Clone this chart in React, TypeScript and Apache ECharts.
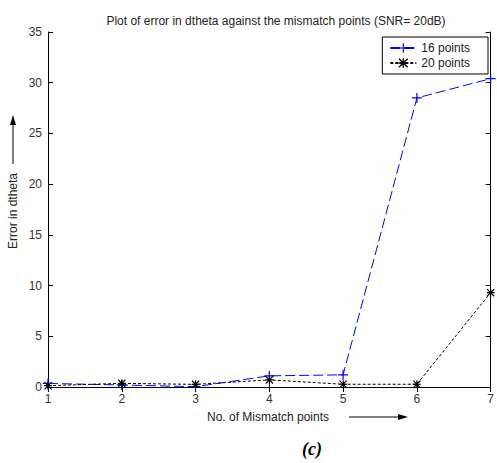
import React, { useEffect, useRef } from "react";
import * as echarts from "echarts";

const mismatchPoints = [1, 2, 3, 4, 5, 6, 7];
const err16 = [0.35, 0.2, 0.03, 1.1, 1.2, 28.5, 30.4];
const err20 = [0.13, 0.36, 0.26, 0.7, 0.27, 0.27, 9.3];
const seriesNames = ["16 points", "20 points"];
const titleText = "Plot of error in dtheta against the mismatch points (SNR= 20dB)";
const xLabel = "No. of Mismatch points";
const yLabel = "Error in dtheta";
const captionText = "(c)";

const plusPath = "path://M0,4.4H10V5.6H0ZM4.4,0H5.6V10H4.4Z";
const starPath =
  "path://M0,4.3H10V5.7H0ZM4.3,0H5.7V10H4.3ZM1,0L10,9L9,10L0,1ZM9,0L10,1L1,10L0,9Z";

export default function App() {
  const ref = useRef<HTMLDivElement>(null);
  useEffect(() => {
    if (!ref.current) return;
    const chart = echarts.init(ref.current, null, { renderer: "svg" });
    const font = "Arial, 'Liberation Sans', sans-serif";
    const axisCommon = {
      axisLine: { show: true, lineStyle: { color: "#000", width: 1 } },
      axisTick: { show: true, inside: true, length: 5, lineStyle: { color: "#000" } },
      splitLine: { show: false },
    };
    chart.setOption({
      animation: false,
      backgroundColor: "#fff",
      title: {
        text: titleText,
        left: 271,
        textAlign: "center",
        top: 10,
        textStyle: { fontSize: 12, fontWeight: "normal", color: "#222", fontFamily: font },
      },
      grid: { left: 48, right: 3, top: 32, bottom: 76, containLabel: false },
      legend: {
        data: seriesNames,
        orient: "vertical",
        right: 9,
        top: 37,
        padding: [5, 18, 5, 7],
        itemGap: 3,
        itemWidth: 26,
        itemHeight: 12,
        backgroundColor: "#fff",
        borderColor: "#000",
        borderWidth: 1,
        borderRadius: 0,
        textStyle: { fontSize: 12, color: "#222", fontFamily: font },
      },
      xAxis: [
        {
          type: "value",
          min: 1,
          max: 7,
          interval: 1,
          position: "bottom",
          ...axisCommon,
          axisLabel: { fontSize: 12, color: "#333", fontFamily: font, margin: 6 },
        },
        {
          type: "value",
          min: 1,
          max: 7,
          interval: 1,
          position: "top",
          ...axisCommon,
          axisLabel: { show: false },
        },
      ],
      yAxis: [
        {
          type: "value",
          min: 0,
          max: 35,
          interval: 5,
          position: "left",
          ...axisCommon,
          axisLabel: { fontSize: 12, color: "#333", fontFamily: font, margin: 6 },
        },
        {
          type: "value",
          min: 0,
          max: 35,
          interval: 5,
          position: "right",
          ...axisCommon,
          axisLabel: { show: false },
        },
      ],
      series: [
        {
          name: seriesNames[0],
          type: "line",
          xAxisIndex: 0,
          yAxisIndex: 0,
          data: mismatchPoints.map((x, i) => [x, err16[i]]),
          symbol: plusPath,
          symbolSize: 10,
          showAllSymbol: true,
          itemStyle: { color: "#0000ff" },
          lineStyle: { color: "#0000ff", width: 1, type: [10, 4] },
          z: 3,
        },
        {
          name: seriesNames[1],
          type: "line",
          xAxisIndex: 0,
          yAxisIndex: 0,
          data: mismatchPoints.map((x, i) => [x, err20[i]]),
          symbol: starPath,
          symbolSize: 8,
          showAllSymbol: true,
          itemStyle: { color: "#000" },
          lineStyle: { color: "#000", width: 1, type: [3, 2] },
          z: 4,
        },
      ],
      graphic: [
        {
          type: "text",
          x: 13,
          y: 211,
          rotation: Math.PI / 2,
          style: {
            text: yLabel,
            font: "12px Arial, 'Liberation Sans', sans-serif",
            fill: "#222",
            align: "center",
            verticalAlign: "middle",
          },
        },
        {
          type: "line",
          shape: { x1: 13, y1: 164, x2: 13, y2: 123 },
          style: { stroke: "#000", lineWidth: 1 },
        },
        {
          type: "polygon",
          shape: { points: [[13, 115], [10, 125], [16, 125]] },
          style: { fill: "#000" },
        },
        {
          type: "text",
          x: 268,
          y: 417,
          style: {
            text: xLabel,
            font: "12px Arial, 'Liberation Sans', sans-serif",
            fill: "#222",
            align: "center",
            verticalAlign: "middle",
          },
        },
        {
          type: "line",
          shape: { x1: 349, y1: 417, x2: 400, y2: 417 },
          style: { stroke: "#000", lineWidth: 1 },
        },
        {
          type: "polygon",
          shape: { points: [[408, 417], [398, 414], [398, 420]] },
          style: { fill: "#000" },
        },
        {
          type: "text",
          x: 312,
          y: 449,
          style: {
            text: captionText,
            font: "italic bold 18px 'Liberation Serif', 'Times New Roman', serif",
            fill: "#000",
            align: "center",
            verticalAlign: "middle",
          },
        },
      ],
    });
    return () => chart.dispose();
  }, []);
  return (
    <div
      ref={ref}
      style={{ position: "fixed", left: 0, top: 0, width: 497, height: 463, background: "#fff" }}
    />
  );
}
